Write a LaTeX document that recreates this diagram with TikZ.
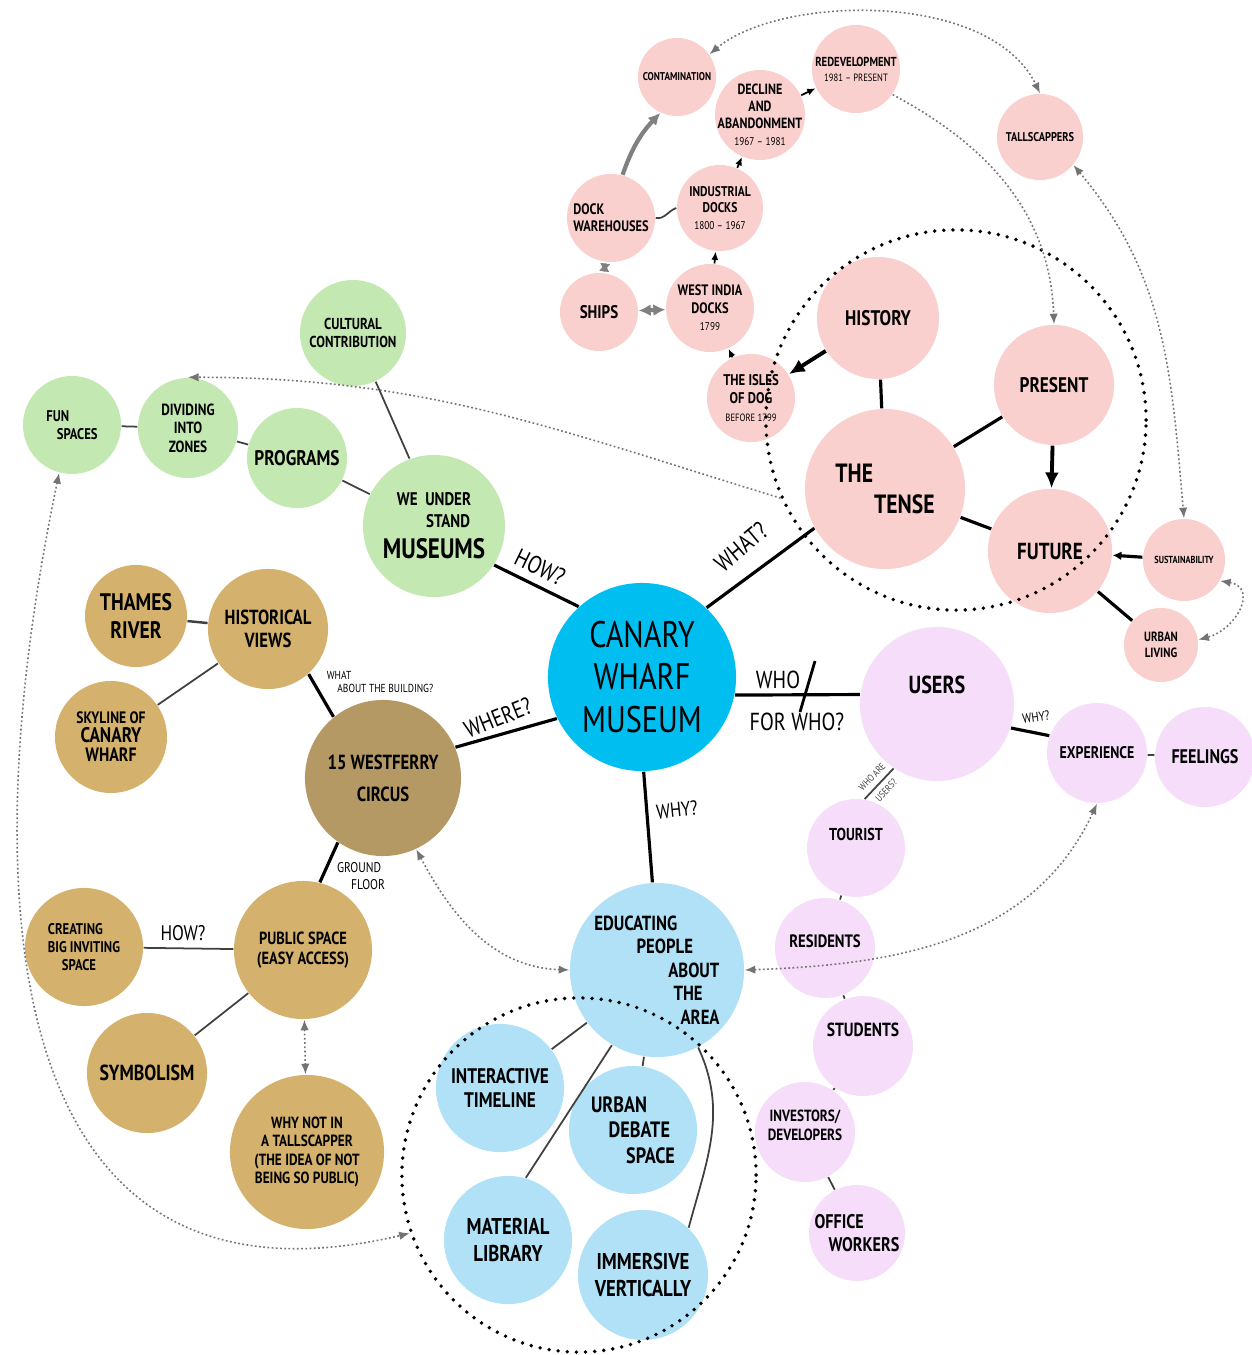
\documentclass[tikz,border=0pt]{standalone}
\usepackage{fontspec}
\setmainfont{PT Sans}[FakeStretch=0.82]
\usepackage{tikz}
\usetikzlibrary{arrows.meta}
\definecolor{wharfblue}{RGB}{0,190,240}
\definecolor{paleblue}{RGB}{176,225,246}
\definecolor{leafgreen}{RGB}{196,232,178}
\definecolor{ochre}{RGB}{212,178,110}
\definecolor{darkochre}{RGB}{180,153,100}
\definecolor{blush}{RGB}{250,208,206}
\definecolor{lilac}{RGB}{246,221,250}
\newcommand\fsz[1]{\fontsize{#1}{\dimexpr #1pt*23/20\relax}\selectfont}

\begin{document}
\begin{tikzpicture}[x=0.01cm, y=-0.01cm,
  bub/.style={circle, inner sep=-3pt, align=center, minimum size=#1*0.2mm},
  hub/.style={bub=#1, fill=wharfblue},
  edu/.style={bub=#1, fill=paleblue},
  grn/.style={bub=#1, fill=leafgreen},
  gld/.style={bub=#1, fill=ochre},
  pnk/.style={bub=#1, fill=blush},
  lil/.style={bub=#1, fill=lilac},
  fs/.style={font=\bfseries\fsz{#1}},
  fl/.style={font=\fsz{#1}},
  ring/.style={circle, draw, line width=1.1pt, dash pattern=on 0pt off 2.6pt, line cap=round, minimum size=#1*0.2mm},
  spoke/.style={line width=0.9pt},
  twig/.style={line width=0.5pt, black!75},
  hint/.style={line width=0.45pt, black!55, dash pattern=on 0.5pt off 0.7pt, {Latex[length=3pt,width=2.4pt]}-{Latex[length=3pt,width=2.4pt]}},
  tohint/.style={line width=0.45pt, black!55, dash pattern=on 0.5pt off 0.7pt, -{Latex[length=3pt,width=2.4pt]}},
  flow/.style={line width=0.5pt, -{Latex[length=2.4pt,width=2pt]}},
  grayflow/.style={line width=1.2pt, black!50, -{Latex[length=3.4pt,width=3.4pt]}},
  bigflow/.style={line width=1.1pt, -{Latex[length=4.5pt,width=4pt]}}]
  \useasboundingbox (0,0) rectangle (1252,1355);

  % centre
  \node[hub=94, fl=10.5] (wharf) at (642,677) {CANARY\\WHARF\\MUSEUM};

  % what? -- the tense
  \node[pnk=39, fs=3.2] (contam) at (677,77) {CONTAMINATION};
  \node[pnk=45, fs=4.2] (decline) at (760,115) {DECLINE\\AND\\ABANDONMENT\\{\mdseries\fsz{3.2}1967 – 1981}};
  \node[pnk=44, fs=3.7] (redev) at (856,69) {REDEVELOPMENT\\{\mdseries\fsz{3}1981 – PRESENT}};
  \node[pnk=43, fs=3.6] (tallscr) at (1040,137) {TALLSCAPPERS};
  \node[pnk=44, fs=4.3, align=left] (dockwh) at (611,218) {DOCK\\WAREHOUSES};
  \node[pnk=43, fs=4] (industrial) at (720,208) {INDUSTRIAL\\DOCKS\\{\mdseries\fsz{3.2}1800 – 1967}};
  \node[pnk=39, fs=5.2] (ships) at (599,312) {SHIPS};
  \node[pnk=44, fs=4.3] (westindia) at (710,308) {WEST INDIA\\DOCKS\\{\mdseries\fsz{3.2}1799}};
  \node[pnk=44, fs=4.4] (isles) at (751,398) {THE ISLES\\OF DOG\\{\mdseries\fsz{3}BEFORE 1799}};
  \node[pnk=61, fs=6] (history) at (878,318) {HISTORY};
  \node[pnk=60, fs=6] (present) at (1054,385) {PRESENT};
  \node[pnk=80, fs=7.5, align=left] (tense) at (885,489) {THE\\\hspace*{11pt}TENSE};
  \node[pnk=62, fs=6.6] (future) at (1050,551) {FUTURE};
  \node[pnk=41, fs=2.9] (sustain) at (1184,560) {SUSTAINABILITY};
  \node[pnk=37, fs=3.8] (urbanliv) at (1161,645) {URBAN\\LIVING};

  % how? -- museums
  \node[grn=71, fs=5.2] (museums) at (434,526) {WE\ \ UNDER\\\hspace*{8pt}STAND\\[3pt]{\fsz{8}MUSEUMS}};
  \node[grn=50, fs=6] (programs) at (297,458) {PROGRAMS};
  \node[grn=50, fs=4.6] (zones) at (188,428) {DIVIDING\\INTO\\ZONES};
  \node[grn=49, fs=4.4, align=left] (funsp) at (72,425) {FUN\\\hspace*{3pt}SPACES};
  \node[grn=53, fs=4.5] (cultural) at (353,333) {CULTURAL\\CONTRIBUTION};

  % where? -- the building
  \node[gld=78, fill=darkochre, fs=5.8] (westferry) at (383,778) {15 WESTFERRY\\[2.5pt]CIRCUS};
  \node[gld=60, fs=5.8] (histviews) at (268,629) {HISTORICAL\\VIEWS};
  \node[gld=51, fs=6.8] (thames) at (136,616) {THAMES\\RIVER};
  \node[gld=56, fs=4.7] (skyline) at (111,737) {SKYLINE OF\\{\fsz{6}CANARY}\\{\fsz{5.5}WHARF}};
  \node[gld=69, fs=5] (publicsp) at (303,950) {PUBLIC SPACE\\(EASY ACCESS)};
  \node[gld=59, fs=4.4, align=left] (creating) at (84,947) {CREATING\\BIG INVITING\\\hspace*{4pt}SPACE};
  \node[gld=60, fs=6.2] (symbolism) at (147,1073) {SYMBOLISM};
  \node[gld=77, fs=4.6] (whynot) at (307,1152) {WHY NOT IN\\A TALLSCAPPER\\(THE IDEA OF NOT\\BEING SO PUBLIC)};

  % why? -- education
  \node[edu=87, fs=5.8, align=left] (educating) at (657,970) {EDUCATING\\\hspace*{12pt}PEOPLE\\\hspace*{21pt}ABOUT\\\hspace*{22.5pt}THE\\\hspace*{24.5pt}AREA};
  \node[edu=64, fs=6] (timeline) at (500,1088) {INTERACTIVE\\TIMELINE};
  \node[edu=64, fs=6.3, align=left] (debate) at (633,1130) {URBAN\\\hspace*{5pt}DEBATE\\\hspace*{10pt}SPACE};
  \node[edu=64, fs=6.5] (matlib) at (508,1240) {MATERIAL\\LIBRARY};
  \node[edu=65, fs=6.5] (immersive) at (643,1275) {IMMERSIVE\\VERTICALLY};

  % who? -- users
  \node[lil=77, fs=7, text depth=11pt] (users) at (937,704) {USERS};
  \node[lil=50, fs=4.8] (experience) at (1097,753) {EXPERIENCE};
  \node[lil=50, fs=5.6] (feelings) at (1205,757) {FEELINGS};
  \node[lil=49, fs=4.9, text depth=8pt] (tourist) at (856,848) {TOURIST};
  \node[lil=50, fs=5.1, text depth=4pt] (residents) at (825,948) {RESIDENTS};
  \node[lil=50, fs=5.4, text depth=9pt] (students) at (863,1046) {STUDENTS};
  \node[lil=50, fs=4.6, text depth=4pt] (investors) at (805,1132) {INVESTORS/\\DEVELOPERS};
  \node[lil=48, fs=5.6, align=left] (officew) at (857,1233) {OFFICE\\\hspace*{4pt}WORKERS};

  \node[ring=190] (tensering) at (956,420) {};
  \node[ring=177] (eduring) at (579,1175) {};

  % spokes
  \draw[spoke] (wharf.132) -- (museums.-33);
  \draw[spoke] (wharf.47) -- (tense.209);
  \draw[spoke] (wharf.-11) -- (users.173);
  \draw[spoke] (wharf.206) -- (westferry.23);
  \draw[spoke] (wharf.-89) -- (educating.93);
  \node[fl=7, rotate=-26] (howq) at (540,567) {HOW?};
  \node[fl=7, rotate=40] (whatq) at (741,547) {WHAT?};
  \node[fl=6.8, rotate=22] (whereq) at (498,718) {WHERE?};
  \node[fl=7] (whoq) at (778,680) {WHO};
  \coordinate (slashtop) at (815,661);
  \coordinate (slashbot) at (800,712);
  \draw[line width=0.8pt] (slashtop) -- (slashbot);
  \node[fl=7] (forwho) at (797,722) {FOR WHO?};
  \node[fl=5.8, rotate=6] (whyq) at (677,810) {WHY?};

  % tense links
  \draw[spoke] (tense) -- (history);
  \draw[spoke] (tense) -- (present);
  \draw[spoke] (tense) -- (future);
  \draw[bigflow] (history) -- (isles);
  \draw[bigflow] (present) -- (future);
  \draw[spoke, {Latex[length=2.5pt,width=2.5pt]}-] (future) -- (sustain);
  \draw[spoke] (future) -- (urbanliv);
  \draw[flow] (isles) -- (westindia);
  \draw[flow] (westindia) -- (industrial);
  \draw[flow] (industrial) -- (decline);
  \draw[flow] (decline) -- (redev);
  \draw[grayflow, {Latex[length=3.4pt,width=3.4pt]}-{Latex[length=3.4pt,width=3.4pt]}] (ships) -- (westindia);
  \draw[grayflow, {Latex[length=2.6pt,width=3pt]}-{Latex[length=2.6pt,width=3pt]}, line width=1pt] (ships) -- (dockwh);
  \draw[grayflow] (dockwh.75) to[bend left=12] (contam.-115);
  \draw[twig] (dockwh.east) to[out=-10, in=200] (industrial.west);

  % museum links
  \draw[twig] (museums.110) -- (cultural.-65);
  \draw[twig] (museums) -- (programs);
  \draw[twig] (programs) -- (zones);
  \draw[twig] (zones) -- (funsp);

  % building links
  \draw[spoke] (westferry.129) -- (histviews.-48);
  \draw[spoke] (westferry.-125) -- (publicsp.76);
  \draw[twig, line width=0.7pt] (histviews) -- (thames);
  \draw[twig] (histviews) -- (skyline);
  \draw[twig] (publicsp) -- (creating);
  \draw[twig] (publicsp) -- (symbolism);
  \node[fl=3.3, align=left] (whatbld) at (380,682) {WHAT\\\hspace*{3pt}ABOUT THE BUILDING?};
  \node[fl=4, align=left] (groundfl) at (361,876) {GROUND\\\hspace*{4pt}FLOOR};
  \node[fl=6] (howpub) at (183,933) {HOW?};

  % education links
  \draw[twig] (educating) -- (timeline);
  \draw[twig] (educating) -- (debate);
  \draw[twig] (educating.-121) -- (matlib.74);
  \draw[twig] (educating.-62) to[out=-65, in=75] (immersive.46);

  % user links
  \draw[spoke] (users.-18) -- (experience.160);
  \node[fl=3.8, rotate=8] (whyexp) at (1036,717) {WHY?};
  \draw[twig] (experience) -- (feelings);
  \draw[twig] (tourist.80) -- node[sloped, above, fl=2.8, inner sep=1.5pt] (whoare) {WHO ARE}
    node[sloped, below, fl=2.8, inner sep=1.5pt] (areusers) {USERS?} (users.236);
  \draw[twig] (tourist) -- (residents);
  \draw[twig] (residents) -- (students);
  \draw[twig] (students) -- (investors);
  \draw[twig] (investors) -- (officew);

  % dotted cross links
  \draw[hint] (contam.35) .. controls (780,-5) and (990,-10) .. (tallscr.north);
  \draw[tohint] (redev.-35) to[out=-28, in=92] (present.north);
  \draw[hint] (tallscr.-40) to[out=-50, in=95] (sustain.north);
  \draw[hint] (sustain.-30) to[out=-10, in=15, looseness=1.6] (urbanliv.8);
  \draw[tohint] (tensering.204) to[out=163, in=0] (zones.north);
  \draw[hint] (funsp.-105) .. controls (-30,900) and (0,1330) .. (eduring.199);
  \draw[hint] (westferry.-65) to[out=-62, in=178] (educating.west);
  \draw[hint] (educating.east) to[out=2, in=-115] (experience.south);
  \draw[hint] (publicsp) -- (whynot);
\end{tikzpicture}
\end{document}
